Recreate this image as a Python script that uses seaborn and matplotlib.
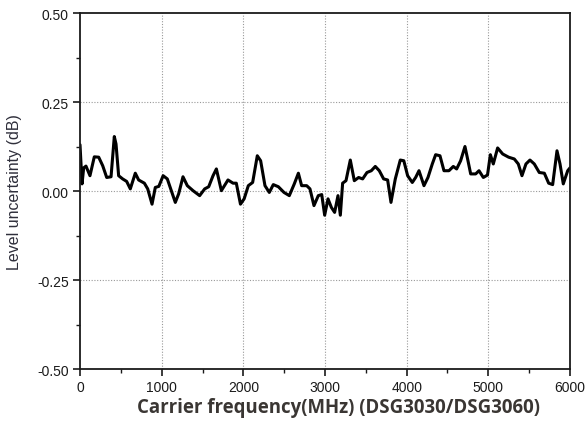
import matplotlib
matplotlib.use("Agg")
import matplotlib.pyplot as plt
from matplotlib.ticker import MultipleLocator
import seaborn as sns
import pandas as pd

# Carrier frequency (MHz) and measured level uncertainty (dB)
freq_mhz = [0, 25, 45, 73, 122, 175, 229, 278, 327, 380, 420, 441, 473, 522, 571,
            616, 677, 718, 788, 829, 882, 922, 965, 1018, 1069, 1118, 1167, 1208,
            1261, 1314, 1384, 1465, 1527, 1576, 1629, 1670, 1731, 1812, 1874, 1914,
            1965, 2010, 2061, 2114, 2171, 2212, 2265, 2318, 2367, 2429, 2498, 2563,
            2624, 2674, 2714, 2776, 2816, 2865, 2918, 2960, 2996, 3037, 3078, 3118,
            3159, 3188, 3216, 3257, 3310, 3359, 3412, 3461, 3514, 3567, 3616, 3665,
            3718, 3767, 3808, 3861, 3922, 3965, 4012, 4069, 4110, 4151, 4212, 4261,
            4314, 4355, 4408, 4457, 4518, 4571, 4612, 4661, 4714, 4751, 4784, 4845,
            4886, 4939, 4990, 5025, 5061, 5114, 5176, 5249, 5318, 5367, 5412, 5461,
            5510, 5563, 5624, 5686, 5739, 5788, 5841, 5878, 5918, 5972, 6000]
uncertainty_db = [0.13, 0.02, 0.065, 0.07, 0.043, 0.096, 0.095, 0.071, 0.038, 0.040,
                  0.153, 0.132, 0.043, 0.034, 0.027, 0.006, 0.050, 0.031, 0.022, 0.006,
                  -0.037, 0.010, 0.013, 0.043, 0.034, 0.001, -0.032, -0.008, 0.040,
                  0.015, 0.001, -0.013, 0.006, 0.012, 0.043, 0.062, 0.001, 0.031, 0.022,
                  0.022, -0.037, -0.022, 0.015, 0.024, 0.099, 0.085, 0.015, -0.004,
                  0.018, 0.012, -0.004, -0.013, 0.020, 0.050, 0.015, 0.015, 0.006,
                  -0.041, -0.013, -0.010, -0.068, -0.022, -0.046, -0.060, -0.013,
                  -0.068, 0.022, 0.029, 0.087, 0.029, 0.038, 0.034, 0.052, 0.057,
                  0.069, 0.057, 0.034, 0.031, -0.032, 0.034, 0.087, 0.085, 0.043,
                  0.024, 0.038, 0.057, 0.015, 0.038, 0.076, 0.102, 0.099, 0.057, 0.057,
                  0.069, 0.062, 0.085, 0.125, 0.085, 0.048, 0.048, 0.057, 0.038, 0.045,
                  0.102, 0.076, 0.121, 0.104, 0.095, 0.090, 0.076, 0.043, 0.076, 0.087,
                  0.076, 0.052, 0.050, 0.022, 0.018, 0.113, 0.076, 0.020, 0.057, 0.065]

x_ticks = [0, 1000, 2000, 3000, 4000, 5000, 6000]
y_ticks = [-0.50, -0.25, 0.00, 0.25, 0.50]
y_tick_labels = ["-0.50", "-0.25", "0.00", "0.25", "0.50"]

x_title = "Carrier frequency(MHz) (DSG3030/DSG3060)"
y_title = "Level uncertainty (dB)"

df = pd.DataFrame({"freq": freq_mhz, "unc": uncertainty_db})

sns.set_theme(style="white")
plt.rcParams["font.family"] = ["Liberation Sans", "DejaVu Sans"]

fig = plt.figure(figsize=(5.87, 4.31), dpi=100)
ax = fig.add_axes([0.1363, 0.1415, 0.8347, 0.826])

sns.lineplot(data=df, x="freq", y="unc", ax=ax, color="black", linewidth=2.2,
             sort=True, estimator=None)

ax.set_xlim(0, 6000)
ax.set_ylim(-0.5, 0.5)
ax.set_xticks(x_ticks)
ax.set_yticks(y_ticks)
ax.set_yticklabels(y_tick_labels)
ax.xaxis.set_minor_locator(MultipleLocator(500))
ax.yaxis.set_minor_locator(MultipleLocator(0.125))

ax.tick_params(which="major", direction="out", length=5, width=1.2,
               labelsize=10, colors="#1a1a1a", top=False, right=False,
               bottom=True, left=True, pad=3)
ax.tick_params(which="minor", direction="out", length=3, width=1.0,
               top=False, right=False, bottom=True, left=True, colors="#1a1a1a")

for side in ["left", "right", "top", "bottom"]:
    ax.spines[side].set_visible(True)
    ax.spines[side].set_color("#1a1a1a")
    ax.spines[side].set_linewidth(1.3)

# Dotted grid only at the inner major ticks
for xv in x_ticks[1:-1]:
    ax.axvline(xv, color="#999999", linestyle=(0, (1, 1.5)), linewidth=0.8, zorder=0)
for yv in y_ticks[1:-1]:
    ax.axhline(yv, color="#999999", linestyle=(0, (1, 1.5)), linewidth=0.8, zorder=0)

ax.set_xlabel(x_title, fontsize=13.4, fontweight="bold", color="#3a3633",
              family=["Open Sans", "DejaVu Sans"])
ax.xaxis.set_label_coords(0.527, -0.078)
ax.set_ylabel(y_title, fontsize=11.5, color="#2e2e3a")
ax.yaxis.set_label_coords(-0.118, 0.5)

fig.savefig("out.png", dpi=100, facecolor="white")
